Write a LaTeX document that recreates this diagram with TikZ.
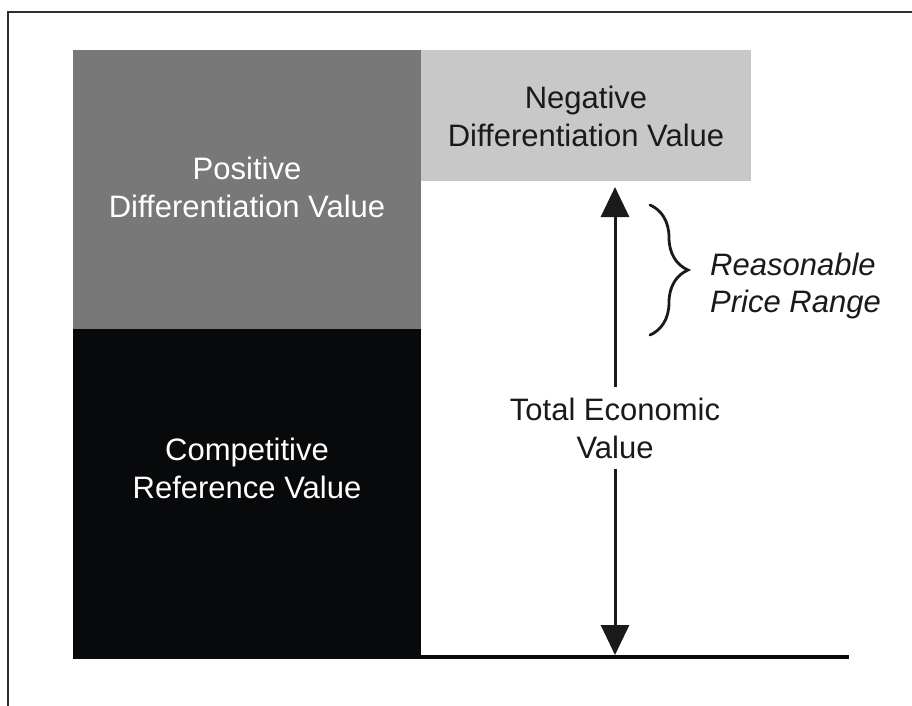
\documentclass[tikz,border=0pt]{standalone}
\usepackage{fontspec}
\setmainfont{Liberation Sans}
\usetikzlibrary{arrows.meta,decorations.pathreplacing}

\definecolor{posgray}{HTML}{777877}
\definecolor{compblack}{HTML}{08090B}
\definecolor{neggray}{HTML}{C8C8C8}
\definecolor{framegray}{HTML}{2E2E2E}
\definecolor{inkdark}{HTML}{1A1A1A}

\tikzset{
  block/.style={draw=none, inner sep=0pt, anchor=north west},
  label text/.style={align=center, inner sep=0pt,
    font=\fontsize{31}{38}\selectfont},
  value arrow/.style={line width=3pt, inkdark,
    {Triangle[width=28pt,length=30pt]}-{Triangle[width=28pt,length=30pt]}},
}

\begin{document}
\begin{tikzpicture}[x=1pt, y=-1pt]
  \useasboundingbox (0,0) rectangle (912,705);

  % outer frame (only the top and left edges fall inside the page)
  \draw[line width=2pt, framegray] (8,720) -- (8,12) -- (930,12);

  % value blocks
  \node[block, fill=posgray, minimum width=348pt, minimum height=279pt]
    (pos) at (73,50) {};
  \node[block, fill=compblack, minimum width=348pt, minimum height=330pt]
    (comp) at (73,329) {};
  \node[block, fill=neggray, minimum width=330pt, minimum height=131pt]
    (neg) at (421,50) {};

  % block labels
  \node[label text, white] (postext) at (247,187)
    {Positive\\Differentiation Value};
  \node[label text, white] (comptext) at (247,468)
    {Competitive\\Reference Value};
  \node[label text, inkdark] (negtext) at (586,116)
    {Negative\\Differentiation Value};

  % base line
  \coordinate (baseL) at (421,657);
  \coordinate (baseR) at (849,657);
  \draw[line width=3.5pt, compblack] (baseL) -- (baseR);

  % total economic value arrow
  \coordinate (tevtop) at (615,187);
  \coordinate (tevbot) at (615,655);
  \draw[value arrow] (tevtop) -- (tevbot);
  \node[label text, inkdark, fill=white, inner xsep=4pt, inner ysep=11pt]
    (tevtext) at (615,428) {Total Economic\\Value};

  % reasonable price range brace
  \coordinate (brtop) at (650,205);
  \coordinate (brbot) at (650,335);
  \draw[line width=2.8pt, inkdark, line cap=round,
        decoration={brace, amplitude=38pt}, decorate] (brtop) -- (brbot);
  \node[label text, inkdark, anchor=west, align=left,
        font=\fontsize{31}{37}\selectfont\itshape]
    (rangetext) at (710,286) {Reasonable\\Price Range};
\end{tikzpicture}
\end{document}
